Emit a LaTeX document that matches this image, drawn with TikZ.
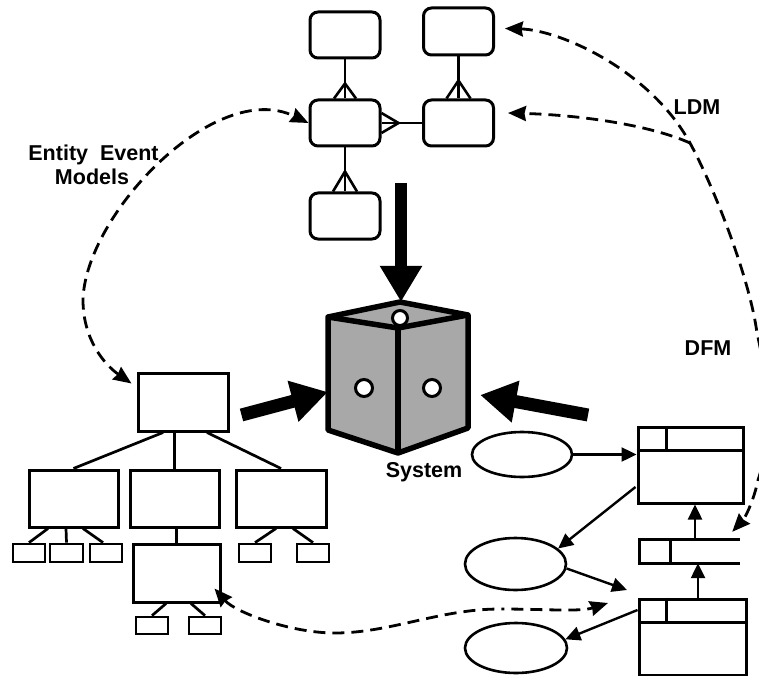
\documentclass[tikz,border=0pt]{standalone}
\usepackage{fontspec}
\setmainfont{Liberation Sans}
\usetikzlibrary{arrows.meta,calc,shapes.geometric}

\definecolor{cubegray}{gray}{0.66}

\begin{document}
\begin{tikzpicture}[x=1pt,y=-1pt,
  >={Stealth[length=18pt,width=15pt,inset=1.5pt]},
  entity/.style={draw, rounded corners=8pt, line width=3pt, minimum width=70pt, minimum height=46pt, inner sep=0pt},
  crow/.style={line width=2.6pt},
  fnbox/.style={draw, line width=3pt, inner sep=0pt, minimum width=89pt, minimum height=57pt},
  leaf/.style={draw, line width=2.8pt, inner sep=0pt, minimum width=32pt, minimum height=18pt},
  tline/.style={line width=2.7pt},
  proc/.style={draw, ellipse, line width=2.6pt, inner sep=0pt},
  store/.style={draw, line width=3pt, inner sep=0pt, minimum width=105pt, minimum height=76pt},
  storeline/.style={line width=3pt},
  flow/.style={line width=2.4pt, -{Triangle[length=15pt,width=14pt]}},
  bigarrow/.style={line width=12pt, -{Triangle[length=36pt,width=40pt]}},
  link/.style={line width=2.8pt, dash pattern=on 12pt off 7pt},
  dashdotlink/.style={line width=2.8pt, dash pattern=on 12pt off 7pt on 12pt off 7pt on 12pt off 7pt
      on 12pt off 7pt on 12pt off 7pt on 12pt off 7pt on 12pt off 7pt on 12pt off 7pt
      on 12pt off 7pt on 12pt off 7pt on 12pt off 7pt on 12pt off 7pt on 12pt off 7pt
      on 12pt off 7pt on 12pt off 7pt on 3pt off 7pt
      on 12pt off 7pt on 12pt off 7pt on 12pt off 7pt on 12pt off 7pt on 12pt off 7pt
      on 12pt off 7pt on 12pt off 7pt on 12pt off 7pt},
  lbl/.style={font=\fontsize{21.5}{25}\selectfont\bfseries, inner sep=0pt, anchor=base},
]
\useasboundingbox (0,0) rectangle (759,676);

% ---------- logical data model ----------
\node[entity] (A) at (345,35) {};
\node[entity, minimum height=47pt] (B) at (458.5,31.5) {};
\node[entity] (C) at (345,123) {};
\node[entity] (D) at (458.5,123) {};
\node[entity] (E) at (345,216) {};

\draw[crow] (A.south) -- (C.north);
\draw[crow] ($(C.north)+(-11,0)$) -- ($(C.north)+(0,-15)$) -- ($(C.north)+(11,0)$);
\draw[crow] (B.south) -- (D.north);
\draw[crow] ($(D.north)+(-12,0)$) -- ($(D.north)+(0,-18)$) -- ($(D.north)+(12,0)$);
\draw[crow] (C.south) -- (E.north);
\draw[crow] ($(E.north)+(-12,0)$) -- ($(E.north)+(0,-20)$) -- ($(E.north)+(12,0)$);
\draw[crow] (C.east) -- (D.west);
\draw[crow] ($(C.east)+(0,-10)$) -- ($(C.east)+(17,0)$) -- ($(C.east)+(0,10)$);

% ---------- system cube ----------
\node[inner sep=0pt, minimum width=140pt, minimum height=151pt] (sys) at (398,377.5) {};
\begin{scope}[line width=5.5pt, line join=round]
  \filldraw[fill=cubegray] (328,317) -- (400,302) -- (468,315) -- (468,428) -- (398,453) -- (328,430) -- cycle;
  \draw (328,317) -- (398,328) -- (468,315);
  \draw (398,328) -- (398,453);
\end{scope}
\filldraw[fill=white, line width=3pt] (400,318) circle[radius=7.5pt];
\filldraw[fill=white, line width=3pt] (364,388) circle[radius=8.5pt];
\filldraw[fill=white, line width=3pt] (432,388) circle[radius=8.5pt];
\node[lbl] (syslabel) at (424,477) {System};

% ---------- function tree ----------
\node[fnbox, minimum width=90pt, minimum height=58pt] (R) at (183,402) {};
\node[fnbox] (T1) at (73.5,498.5) {};
\node[fnbox] (T2) at (174.5,498.5) {};
\node[fnbox, minimum width=90pt] (T3) at (281,498.5) {};
\node[fnbox, minimum width=87pt, minimum height=58pt] (G) at (176.5,573) {};
\node[leaf] (L1) at (29,553) {};
\node[leaf, minimum width=33pt] (L2) at (66.5,553) {};
\node[leaf] (L3) at (106,553) {};
\node[leaf] (L4) at (255,553) {};
\node[leaf] (L5) at (313,553) {};
\node[leaf, minimum height=17pt] (L6) at (152,625.5) {};
\node[leaf, minimum height=17pt] (L7) at (205,625.5) {};

\draw[tline] ($(R.south)+(-20,0)$) -- (T1.north);
\draw[tline] (T2.north |- R.south) -- (T2.north);
\draw[tline] ($(R.south)+(24,0)$) -- (T3.north);
\draw[tline] ($(T1.south)+(-25.5,0)$) -- (L1.north);
\draw[tline] ($(T1.south)+(-7.5,0)$) -- (L2.north);
\draw[tline] ($(T1.south)+(9.5,0)$) -- ($(L3.north)+(-3,0)$);
\draw[tline] (G.north |- T2.south) -- (G.north);
\draw[tline] ($(T3.south)+(-5,0)$) -- (L4.north);
\draw[tline] ($(T3.south)+(12,0)$) -- (L5.north);
\draw[tline] ($(G.south)+(-10.5,0)$) -- (L6.north);
\draw[tline] ($(G.south)+(14.5,0)$) -- (L7.north);

% ---------- data flow model ----------
\node[proc, minimum width=100pt, minimum height=45pt] (P1) at (522,454.5) {};
\node[proc, minimum width=101pt, minimum height=52pt] (P2) at (515.5,564) {};
\node[proc, minimum width=102pt, minimum height=50pt] (P3) at (516,648) {};

\node[store] (S1) at (690.5,465) {};
\draw[storeline] ($(S1.north west)+(0,25)$) -- ($(S1.north east)+(0,25)$);
\draw[storeline] ($(S1.north west)+(30,0)$) -- ($(S1.north west)+(30,25)$);

\node[store, minimum width=107pt] (S2) at (692.5,637) {};
\draw[storeline] ($(S2.north west)+(0,25)$) -- ($(S2.north east)+(0,25)$);
\draw[storeline] ($(S2.north west)+(29,0)$) -- ($(S2.north west)+(29,25)$);

\node[inner sep=0pt, minimum width=100pt, minimum height=23pt] (M) at (690,551.5) {};
\draw[storeline] (M.north east) -- (M.north west) -- (M.south west) -- (M.south east);
\draw[storeline] ($(M.north west)+(31,0)$) -- ($(M.south west)+(31,0)$);

\coordinate (p2end) at (627,590);
\draw[flow] (P1.east) -- (P1.east -| S1.west);
\draw[flow] ($(S1.west)+(-1,22)$) -- (P2.20);
\draw[flow] (P2.-5) -- (p2end);
\draw[flow] ($(S2.west)+(0,-27)$) -- (P3.10);
\draw[flow] ($(M.north)+(5,0)$) -- ($(S1.south)+(4.5,0)$);
\draw[flow] ($(S2.north)+(5.5,0)$) -- ($(M.south)+(8,0)$);

% ---------- heavy arrows into the system ----------
\coordinate (topTail) at (401,183);
\coordinate (rTail) at (588,415);
\draw[bigarrow] (topTail) -- (sys.north -| topTail);
\draw[bigarrow, line width=13pt] ($(R.east)+(12,13)$) -- ($(sys.west)+(0,14.5)$);
\draw[bigarrow, line width=13pt] (rTail) -- ($(sys.east)+(12,17.5)$);

% ---------- dashed cross-references ----------
\draw[link, <->] ($(R.north west)+(-5,12)$) .. controls (105,365) and (83,340) .. (83,300)
      .. controls (85,215) and (215,78) .. (C.west);

\coordinate (j) at (690,143);
\draw[link, <->] ($(B.east)+(10,-3)$) .. controls (560,30) and (650,70) .. (j)
      .. controls (715,189) and (750,280) .. (757,333)
      .. controls (768,380) and (772,440) .. (758,480)
      .. controls (754,500) and (745,518) .. ($(M.north east)+(-8,-8)$);
\draw[link, ->] (j) .. controls (650,125) and (580,115) .. ($(D.east)+(13,-10)$);

\coordinate (dd) at (608,603);
\draw[dashdotlink, <->] ($(G.south east)+(-7,-15)$) .. controls (235,612) and (290,633) .. (335,633)
      .. controls (390,633) and (440,609) .. (500,609)
      .. controls (545,609) and (580,612) .. (dd);

% ---------- labels ----------
\node[lbl] (eem1) at (93.5,160.5) {Entity\ \ Event};
\node[lbl] (eem2) at (92,184.5) {Models};
\node[lbl] (ldm) at (697,114.5) {LDM};
\node[lbl] (dfm) at (708,355.5) {DFM};
\end{tikzpicture}
\end{document}
